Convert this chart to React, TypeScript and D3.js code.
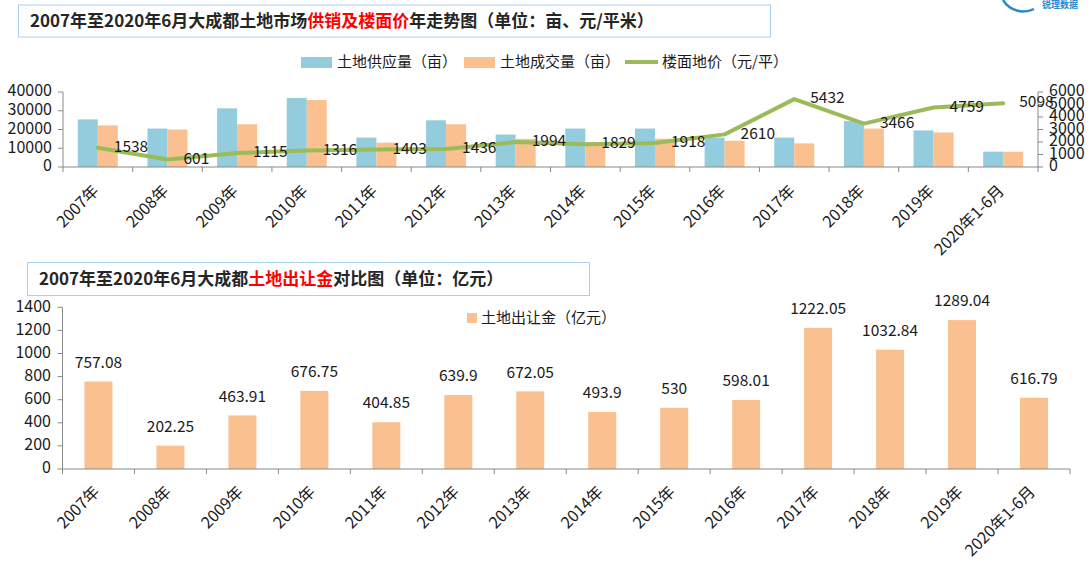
import React from 'react';
import * as d3 from 'd3';

// categories
const categories = ['2007年', '2008年', '2009年', '2010年', '2011年', '2012年', '2013年', '2014年', '2015年', '2016年', '2017年', '2018年', '2019年', '2020年1-6月'];

// top chart: land supply / land sold (亩), floor price (元/平)
const landSupply = [25400, 20500, 31300, 36800, 15700, 24900, 17300, 20500, 20500, 15700, 15700, 24500, 19500, 8200];
const landSold = [22200, 20000, 22800, 35700, 13000, 22800, 15000, 12800, 15100, 14000, 12600, 20500, 18400, 8100];
const floorPrice = [1538, 601, 1115, 1316, 1403, 1436, 1994, 1829, 1918, 2610, 5432, 3466, 4759, 5098];

// bottom chart: land transfer revenue (亿元)
const landRevenue = [757.08, 202.25, 463.91, 676.75, 404.85, 639.9, 672.05, 493.9, 530, 598.01, 1222.05, 1032.84, 1289.04, 616.79];

const leftTicks = [0, 10000, 20000, 30000, 40000];
const rightTicks = [0, 1000, 2000, 3000, 4000, 5000, 6000];
const revenueTicks = [0, 200, 400, 600, 800, 1000, 1200, 1400];

const FONT = '"Noto Sans CJK SC", "Noto Sans", sans-serif';
const BLUE = '#93CDDD';
const ORANGE = '#FAC090';
const GREEN = '#9BBB59';
const AXIS = '#898989';
const TEXT = '#1a1a1a';

const W = 1090;
const H = 566;

const App: React.FC = () => {
  // ---- top chart scales
  const x1 = d3.scaleBand<string>().domain(categories).range([63, 1038]);
  const yL = d3.scaleLinear().domain([0, 40000]).range([167, 92]);
  const yR = d3.scaleLinear().domain([0, 6000]).range([167, 92]);
  const barW1 = 20;
  const cx1 = (c: string) => (x1(c) as number) + x1.bandwidth() / 2;

  const line = d3.line<number>()
    .x((_, i) => cx1(categories[i]))
    .y(d => yR(d));

  // ---- bottom chart scales
  const x2 = d3.scaleBand<string>().domain(categories).range([62.5, 1070]);
  const y2 = d3.scaleLinear().domain([0, 1400]).range([469, 307.3]);
  const barW2 = 28;
  const cx2 = (c: string) => (x2(c) as number) + x2.bandwidth() / 2;

  const tickEdges = (x: d3.ScaleBand<string>) => {
    const edges = categories.map(c => x(c) as number);
    edges.push(x.range()[1]);
    return edges;
  };

  return (
    <svg width={W} height={H} viewBox={`0 0 ${W} ${H}`}
      style={{ position: 'absolute', left: 0, top: 0, background: '#fff' }}
      fontFamily={FONT}>
      <rect x={0} y={0} width={W} height={H} fill="#fff" />

      {/* logo fragment top right */}
      <path d="M1003,0 A24,24 0 0 0 1034,9" fill="none" stroke="#2A8ACF" strokeWidth={2.5} />
      <text x={1042} y={8} fontSize={9} fill="#2A8ACF" fontWeight="bold">锐理数据</text>

      {/* ---- title 1 */}
      <rect x={18.5} y={5} width={752} height={32} fill="#fff" stroke="#A9D0F0" strokeWidth={1} />
      <text x={30} y={27} fontSize={17} fontWeight="bold" fill="#262626">
        2007年至2020年6月大成都土地市场<tspan fill="#FF0000">供销及楼面价</tspan>年走势图（单位：亩、元/平米）
      </text>

      {/* legend 1 */}
      <rect x={301} y={57} width={31} height={11} fill={BLUE} />
      <text x={337} y={62.5} fontSize={15} fill={TEXT} dominantBaseline="middle">土地供应量（亩）</text>
      <rect x={464} y={57} width={31} height={11} fill={ORANGE} />
      <text x={500} y={62.5} fontSize={15} fill={TEXT} dominantBaseline="middle">土地成交量（亩）</text>
      <line x1={625} x2={658} y1={62} y2={62} stroke={GREEN} strokeWidth={4} />
      <text x={662} y={62.5} fontSize={15} fill={TEXT} dominantBaseline="middle">楼面地价（元/平）</text>

      {/* bars top */}
      {categories.map((c, i) => (
        <g key={'b1' + c}>
          <rect x={cx1(c) - barW1} y={yL(landSupply[i])} width={barW1} height={yL(0) - yL(landSupply[i])} fill={BLUE} />
          <rect x={cx1(c)} y={yL(landSold[i])} width={barW1} height={yL(0) - yL(landSold[i])} fill={ORANGE} />
        </g>
      ))}

      {/* axes top */}
      <line x1={63} x2={63} y1={92} y2={167} stroke={AXIS} />
      {leftTicks.map(t => (
        <g key={'lt' + t}>
          <line x1={58} x2={63} y1={yL(t)} y2={yL(t)} stroke={AXIS} />
          <text x={52} y={yL(t)} fontSize={16} fill={TEXT} textAnchor="end" dominantBaseline="middle">{t}</text>
        </g>
      ))}
      <line x1={1038} x2={1038} y1={92} y2={167} stroke={AXIS} />
      {rightTicks.map(t => (
        <g key={'rt' + t}>
          <line x1={1038} x2={1043} y1={yR(t)} y2={yR(t)} stroke={AXIS} />
          <text x={1049} y={yR(t)} fontSize={16} fill={TEXT} dominantBaseline="middle">{t}</text>
        </g>
      ))}
      <line x1={63} x2={1038} y1={167} y2={167} stroke={AXIS} />
      {tickEdges(x1).map((e, i) => (
        <line key={'xt1' + i} x1={e} x2={e} y1={167} y2={172} stroke={AXIS} />
      ))}
      {categories.map(c => (
        <text key={'xl1' + c} transform={`translate(${cx1(c) + 2},${192}) rotate(-45)`}
          fontSize={16} fill={TEXT} textAnchor="end">{c}</text>
      ))}

      {/* price line */}
      <path d={line(floorPrice) || ''} fill="none" stroke={GREEN} strokeWidth={4} strokeLinejoin="round" strokeLinecap="round" />
      {floorPrice.map((v, i) => (
        <text key={'pl' + i} x={cx1(categories[i]) + 16} y={yR(v)} fontSize={15.5} fill={TEXT} dominantBaseline="middle">{v}</text>
      ))}

      {/* ---- title 2 */}
      <rect x={27.5} y={262.5} width={562} height={33} fill="#fff" stroke="#A9D0F0" strokeWidth={1} />
      <text x={39} y={284.5} fontSize={17} fontWeight="bold" fill="#262626">
        2007年至2020年6月大成都<tspan fill="#FF0000">土地出让金</tspan>对比图（单位：亿元）
      </text>

      {/* legend 2 */}
      <rect x={467} y={313} width={10} height={10} fill={ORANGE} />
      <text x={481} y={318.5} fontSize={15} fill={TEXT} dominantBaseline="middle">土地出让金（亿元）</text>

      {/* bars bottom */}
      {categories.map((c, i) => (
        <g key={'b2' + c}>
          <rect x={cx2(c) - barW2 / 2} y={y2(landRevenue[i])} width={barW2} height={y2(0) - y2(landRevenue[i])} fill={ORANGE} />
          <text x={cx2(c)} y={y2(landRevenue[i]) - 18} fontSize={15.5} fill={TEXT} textAnchor="middle" dominantBaseline="middle">{landRevenue[i]}</text>
        </g>
      ))}

      {/* axes bottom */}
      <line x1={62.5} x2={62.5} y1={307.3} y2={469} stroke={AXIS} />
      {revenueTicks.map(t => (
        <g key={'bt' + t}>
          <line x1={57.5} x2={62.5} y1={y2(t)} y2={y2(t)} stroke={AXIS} />
          <text x={51} y={y2(t)} fontSize={16} fill={TEXT} textAnchor="end" dominantBaseline="middle">{t}</text>
        </g>
      ))}
      <line x1={62.5} x2={1070} y1={469} y2={469} stroke={AXIS} />
      {tickEdges(x2).map((e, i) => (
        <line key={'xt2' + i} x1={e} x2={e} y1={469} y2={474} stroke={AXIS} />
      ))}
      {categories.map(c => (
        <text key={'xl2' + c} transform={`translate(${cx2(c) + 2},${493}) rotate(-45)`}
          fontSize={16} fill={TEXT} textAnchor="end">{c}</text>
      ))}
    </svg>
  );
};

export default App;
